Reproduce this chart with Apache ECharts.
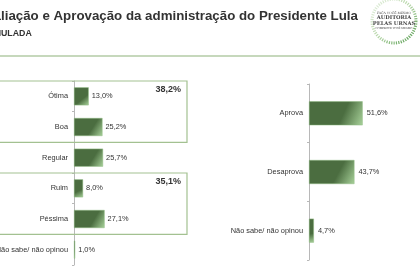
<!DOCTYPE html>
<html>
<head>
<meta charset="utf-8">
<script src="https://cdn.jsdelivr.net/npm/echarts@6/dist/echarts.min.js"></script>
<style>
  html, body { margin: 0; padding: 0; background: #fff; }
  #chart { width: 420px; height: 280px; }
</style>
</head>
<body>
<div id="chart"></div>
<script>
/* Avaliação e Aprovação — réplica */

// ------------- dados -------------
const EVAL_CATS = ["Ótima", "Boa", "Regular", "Ruim", "Péssima", "Não sabe/ não opinou"];
const EVAL_VALS = [13.0, 25.2, 25.7, 8.0, 27.1, 1.0];
const APROV_CATS = ["Aprova", "Desaprova", "Não sabe/ não opinou"];
const APROV_VALS = [51.6, 43.7, 4.7];
// caixas de agrupamento: [primeira categoria, última categoria, total]
const GROUPS = [
  ["Ótima", "Boa", "38,2%"],
  ["Ruim", "Péssima", "35,1%"],
];
const TITLE = "Avaliação e Aprovação da administração do Presidente Lula";
const SUBTITLE = "ESTIMULADA";

const FONT = "Liberation Sans, Arial, sans-serif";
const GREEN = "#4b6d40";

function fmtPct(v) {
  return v.toFixed(1).replace(".", ",") + "%";
}
function textWidth(txt, font) {
  const ctx = document.createElement("canvas").getContext("2d");
  ctx.font = font;
  return ctx.measureText(txt).width;
}

const barColor = new echarts.graphic.LinearGradient(0, 0, 1, 1, [
  {offset: 0, color: GREEN},
  {offset: 0.62, color: GREEN},
  {offset: 1, color: "#a9d39b"},
]);

function axisCommon() {
  return {
    axisLine: {show: true, lineStyle: {color: "#b8b8b8", width: 1}},
    axisTick: {show: true, length: 2, lineStyle: {color: "#b8b8b8"}},
    axisLabel: {fontFamily: FONT, fontSize: 7.4, color: "#333", margin: 6},
  };
}

const chart = echarts.init(document.getElementById("chart"));

// título cortado à esquerda como na imagem
const titleFont = `bold 13.3px ${FONT}`;
const titleLeft = -textWidth("Ava", titleFont) + 1;
const subFont = `bold 8.8px ${FONT}`;
const subLeft = -textWidth("ESTIM", subFont) + 1;

chart.setOption({
  animation: false,
  grid: [
    {left: 74, top: 81, width: 113, height: 184, outerBoundsMode: "none", containLabel: false},
    {left: 309, top: 84, width: 104, height: 176, outerBoundsMode: "none", containLabel: false},
  ],
  xAxis: [
    {gridIndex: 0, type: "value", min: 0, max: 100, show: false},
    {gridIndex: 1, type: "value", min: 0, max: 100, show: false},
  ],
  yAxis: [
    Object.assign({gridIndex: 0, type: "category", data: EVAL_CATS, inverse: true}, axisCommon()),
    Object.assign({gridIndex: 1, type: "category", data: APROV_CATS, inverse: true}, axisCommon()),
  ],
  series: [
    {
      type: "bar", xAxisIndex: 0, yAxisIndex: 0, data: EVAL_VALS, barWidth: 18,
      itemStyle: {color: barColor, borderColor: "#8fbb80", borderWidth: 0.5},
      label: {show: true, position: "right", distance: 3, fontFamily: FONT, fontSize: 7.4,
        color: "#333", formatter: p => fmtPct(p.value)},
    },
    {
      type: "bar", xAxisIndex: 1, yAxisIndex: 1, data: APROV_VALS, barWidth: 24,
      itemStyle: {color: barColor, borderColor: "#8fbb80", borderWidth: 0.5},
      label: {show: true, position: "right", distance: 4, fontFamily: FONT, fontSize: 7.4,
        color: "#333", formatter: p => fmtPct(p.value)},
    },
  ],
});

// ------------- decorações -------------
function buildGraphics() {
  const els = [];
  els.push({type: "text", left: titleLeft, top: 10,
    style: {text: TITLE, font: titleFont, fill: "#333"}});
  els.push({type: "text", left: subLeft, top: 29,
    style: {text: SUBTITLE, font: subFont, fill: "#333"}});
  els.push({type: "line", shape: {x1: 0, y1: 56, x2: 420, y2: 56},
    style: {stroke: "#b3cba6", lineWidth: 1.5}});

  // caixas de grupos
  const half = 184 / EVAL_CATS.length / 2;
  GROUPS.forEach(([a, b, total]) => {
    const y1 = chart.convertToPixel({yAxisIndex: 0}, a) - half;
    const y2 = chart.convertToPixel({yAxisIndex: 0}, b) + half;
    els.push({type: "rect", shape: {x: -2, y: y1, width: 189, height: y2 - y1},
      style: {fill: null, stroke: "#a3c191", lineWidth: 1.2}, z: 10});
    els.push({type: "text", x: 181, y: y1 + 4.5,
      style: {text: total, font: `bold 9px ${FONT}`, fill: "#333", align: "right"}, z: 10});
  });

  // selo
  els.push({type: "circle", shape: {cx: 394, cy: 21, r: 22},
    style: {fill: null, lineWidth: 3, lineDash: [1.2, 1.2],
      stroke: new echarts.graphic.LinearGradient(0, 0, 1, 1, [
        {offset: 0, color: "#eef5ea"}, {offset: 0.5, color: "#b6d6a8"}, {offset: 1, color: "#3f8f3a"}])}});
  [["FAÇA VOCÊ MESMO", 13.5, 3.2, "normal"], ["AUDITORIA", 18, 5.2, "bold"],
   ["PELAS URNAS", 23.5, 5.2, "bold"], ["COMPROVE VOCÊ MESMO", 28.5, 2.6, "normal"]]
    .forEach(([t, y, s, w]) => {
      els.push({type: "text", x: 394, y: y,
        style: {text: t, font: `${w} ${s}px DejaVu Serif, serif`, fill: "#444", align: "center", verticalAlign: "middle"}});
    });
  return els;
}
chart.setOption({graphic: buildGraphics()});
</script>
</body>
</html>
